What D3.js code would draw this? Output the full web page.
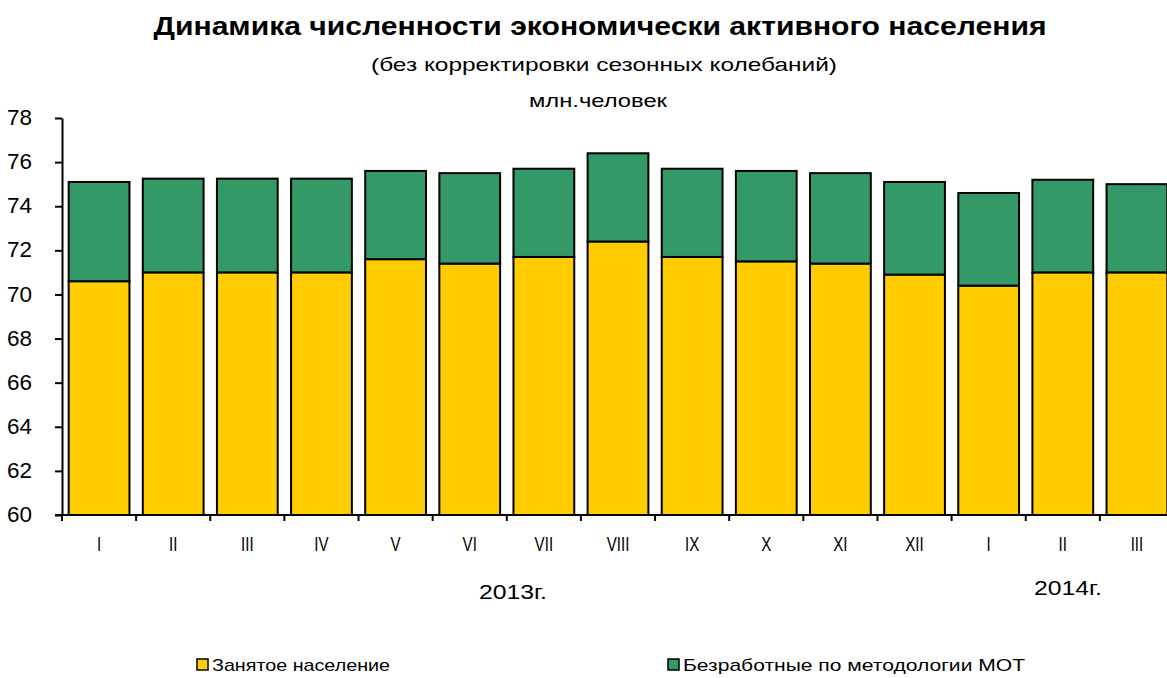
<!DOCTYPE html>
<html>
<head>
<meta charset="utf-8">
<script src="https://cdn.jsdelivr.net/npm/d3@7"></script>
<style>
  body { margin: 0; background: #fff; }
  svg { display: block; font-family: "Liberation Sans", Arial, sans-serif; }
</style>
</head>
<body>
<svg id="chart" width="1167" height="678"></svg>
<script>
// months (roman), 2013-I .. 2014-III
const months = ["I", "II", "III", "IV", "V", "VI", "VII", "VIII", "IX", "X", "XI", "XII", "I", "II", "III"];
// employed population, mln
const employed = [70.6, 71.0, 71.0, 71.0, 71.6, 71.4, 71.7, 72.4, 71.7, 71.5, 71.4, 70.9, 70.4, 71.0, 71.0];
// unemployed (ILO methodology), mln
const unemployed = [4.5, 4.25, 4.25, 4.25, 4.0, 4.1, 4.0, 4.0, 4.0, 4.1, 4.1, 4.2, 4.2, 4.2, 4.0];
const yTicks = [60, 62, 64, 66, 68, 70, 72, 74, 76, 78];
const seriesNames = ["Занятое население", "Безработные по методологии МОТ"];
const colors = ["#ffcc00", "#339966"];

const svg = d3.select("#chart");
const squeeze = 0.72; // the original labels are narrow

const x = d3.scaleBand()
  .domain(d3.range(months.length))
  .range([62, 1174])
  .paddingInner(0.18)
  .paddingOuter(0.09);

const y = d3.scaleLinear().domain([60, 78]).range([515, 118]);

// title block
svg.append("text")
  .attr("x", 600).attr("y", 35)
  .attr("text-anchor", "middle")
  .attr("font-size", 26).attr("font-weight", "900")
  .attr("textLength", 893).attr("lengthAdjust", "spacingAndGlyphs")
  .text("Динамика численности экономически активного населения");

svg.append("text")
  .attr("x", 604).attr("y", 71)
  .attr("text-anchor", "middle")
  .attr("font-size", 19)
  .attr("textLength", 466).attr("lengthAdjust", "spacingAndGlyphs")
  .text("(без корректировки сезонных колебаний)");

svg.append("text")
  .attr("x", 598).attr("y", 107)
  .attr("text-anchor", "middle")
  .attr("font-size", 18)
  .attr("textLength", 138).attr("lengthAdjust", "spacingAndGlyphs")
  .text("млн.человек");

// stacked bars
const rows = months.map((m, i) => ({ i: i, employed: employed[i], unemployed: unemployed[i] }));
const stack = d3.stack().keys(["employed", "unemployed"]).value((d, k) => k === "employed" ? d[k] - 60 : d[k]);
const layers = stack(rows);

svg.append("g")
  .selectAll("g")
  .data(layers)
  .join("g")
  .attr("fill", (d, i) => colors[i])
  .selectAll("rect")
  .data((d) => d)
  .join("rect")
  .attr("x", (d) => x(d.data.i))
  .attr("y", (d) => y(d[1] + 60))
  .attr("width", x.bandwidth())
  .attr("height", (d) => y(d[0] + 60) - y(d[1] + 60))
  .attr("stroke", "#000")
  .attr("stroke-width", 2);

// y axis
const yAxis = svg.append("g")
  .attr("transform", "translate(62,0)")
  .call(d3.axisLeft(y).tickValues(yTicks).tickSize(7).tickSizeOuter(0).tickPadding(23));
yAxis.select(".domain").attr("stroke-width", 2);
yAxis.selectAll(".tick line").attr("stroke-width", 2);
yAxis.selectAll("text")
  .attr("font-size", 22).attr("fill", "#000")
  .attr("dy", "0.3em")
  .attr("textLength", 25).attr("lengthAdjust", "spacingAndGlyphs")
  .attr("font-family", "'Liberation Sans', Arial, sans-serif");

// x axis with ticks at band boundaries
const half = x.step() * x.paddingInner() / 2;
const xAxisG = svg.append("g");
xAxisG.append("line")
  .attr("x1", 55).attr("x2", 1167)
  .attr("y1", y(60)).attr("y2", y(60))
  .attr("stroke", "#000").attr("stroke-width", 2);
xAxisG.selectAll("line.tk")
  .data(d3.range(months.length))
  .join("line")
  .attr("class", "tk")
  .attr("x1", (d) => x(d) - half).attr("x2", (d) => x(d) - half)
  .attr("y1", y(60)).attr("y2", y(60) + 6)
  .attr("stroke", "#000").attr("stroke-width", 2);
xAxisG.append("g")
  .attr("transform", `scale(${squeeze},1)`)
  .selectAll("text.lbl")
  .data(months)
  .join("text")
  .attr("class", "lbl")
  .attr("x", (d, i) => (x(i) + x.bandwidth() / 2) / squeeze)
  .attr("y", 551)
  .attr("text-anchor", "middle")
  .attr("font-size", 21)
  .text((d) => d);

// year labels
svg.append("text").attr("x", 513).attr("y", 599).attr("text-anchor", "middle")
  .attr("font-size", 21).attr("textLength", 68).attr("lengthAdjust", "spacingAndGlyphs").text("2013г.");
svg.append("text").attr("x", 1068).attr("y", 595).attr("text-anchor", "middle")
  .attr("font-size", 21).attr("textLength", 68).attr("lengthAdjust", "spacingAndGlyphs").text("2014г.");

// legend
const legendX = [197, 668];
const legend = svg.append("g")
  .selectAll("g")
  .data(seriesNames)
  .join("g")
  .attr("transform", (d, i) => `translate(${legendX[i]},659)`);
legend.append("rect")
  .attr("width", 11).attr("height", 11)
  .attr("fill", (d, i) => colors[i])
  .attr("stroke", "#000").attr("stroke-width", 1.5);
legend.append("text")
  .attr("x", 15).attr("y", 12)
  .attr("font-size", 17)
  .attr("textLength", (d, i) => [178, 342][i])
  .attr("lengthAdjust", "spacingAndGlyphs")
  .text((d) => d);
</script>
</body>
</html>
